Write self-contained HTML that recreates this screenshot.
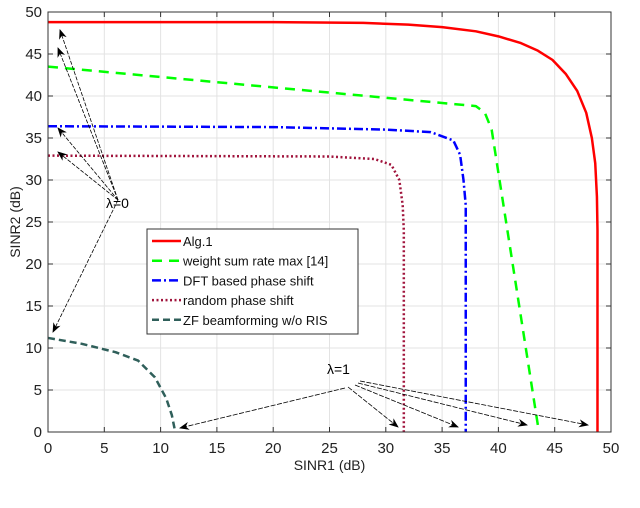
<!DOCTYPE html>
<html><head><meta charset="utf-8"><style>
body{margin:0;background:#fff}
svg{display:block;font-family:"Liberation Sans",sans-serif}
</style></head><body>
<svg id="c" width="640" height="508" viewBox="0 0 640 508">
<defs><marker id="ah" markerWidth="10" markerHeight="8" refX="9" refY="4" orient="auto" markerUnits="userSpaceOnUse"><path d="M0,0 L10,4 L0,8 L3,4 Z" fill="#000"/></marker></defs>
<g id="grid"></g>
<g id="series"></g>
<g id="axes"></g>
<g id="ann"></g>
<g id="legend"></g>
</svg>
<script>
const xTicks=[0,5,10,15,20,25,30,35,40,45,50];
const yTicks=[0,5,10,15,20,25,30,35,40,45,50];
const alg1X=[0,20,28,32,35,38,40,42,43.5,44.8,46,47,47.8,48.3,48.6,48.75,48.8,48.8];
const alg1Y=[48.8,48.8,48.7,48.5,48.2,47.7,47.1,46.3,45.4,44.3,42.6,40.6,38,35,32,28,24,0];
const wsrX=[0,38,38.8,39.4,43.6];
const wsrY=[43.5,38.8,38,36,0];
const dftX=[0,20,30,34,36,36.6,36.9,37.1,37.1];
const dftY=[36.4,36.3,36,35.7,34.7,33,30,27,0];
const rndX=[0,25,29,30.5,31.2,31.5,31.6,31.6];
const rndY=[32.9,32.8,32.5,31.8,30,27,24,0];
const zfX=[0,3,6,8,9.5,10.5,11,11.3];
const zfY=[11.2,10.5,9.5,8.5,6.5,4,2,0];
const L=48,R=611,T=12,B=432;
const sx=v=>L+(v-0)/(50-0)*(R-L), sy=v=>B-(v-0)/(50-0)*(B-T);
const NS="http://www.w3.org/2000/svg";
function mk(tag,attrs,parent,txt){const e=document.createElementNS(NS,tag);for(const k in attrs)e.setAttribute(k,attrs[k]);if(txt!==undefined)e.textContent=txt;parent.appendChild(e);return e;}
const grid=document.getElementById('grid'),axes=document.getElementById('axes'),ser=document.getElementById('series'),ann=document.getElementById('ann'),leg=document.getElementById('legend');
xTicks.forEach(t=>{const g=mk('line',{x1:sx(t),x2:sx(t),y1:T,y2:B,stroke:'#e3e3e3','stroke-width':1},grid);
 mk('line',{x1:sx(t),x2:sx(t),y1:B,y2:B-5,stroke:'#333'},axes);mk('line',{x1:sx(t),x2:sx(t),y1:T,y2:T+5,stroke:'#333'},axes);
 const lb=mk('text',{x:sx(t),y:B+21,'text-anchor':'middle','font-size':15,fill:'#222'},axes,t);});
yTicks.forEach(t=>{const g=mk('line',{x1:L,x2:R,y1:sy(t),y2:sy(t),stroke:'#e3e3e3','stroke-width':1},grid);
 mk('line',{x1:L,x2:L+5,y1:sy(t),y2:sy(t),stroke:'#333'},axes);mk('line',{x1:R,x2:R-5,y1:sy(t),y2:sy(t),stroke:'#333'},axes);
 const lb=mk('text',{x:L-6,y:sy(t)+5,'text-anchor':'end','font-size':15,fill:'#222'},axes,t);});
const fr=mk('rect',{x:L,y:T,width:R-L,height:B-T,fill:'none',stroke:'#333','stroke-width':1},axes);
const xt=mk('text',{x:(L+R)/2,y:470,'text-anchor':'middle','font-size':14,fill:'#222'},axes,'SINR1 (dB)');
const yt=mk('text',{x:0,y:0,transform:'translate(20,222) rotate(-90)','text-anchor':'middle','font-size':14,fill:'#222'},axes,'SINR2 (dB)');
const styles=[
 {x:alg1X,y:alg1Y,c:'#f00',d:'',n:'Alg.1',id:'alg1'},
 {x:wsrX,y:wsrY,c:'#0f0',d:'10 7',n:'weight sum rate max [14]',id:'wsr'},
 {x:dftX,y:dftY,c:'#00f',d:'9 3 2 3',n:'DFT based phase shift',id:'dft'},
 {x:rndX,y:rndY,c:'#a0143c',d:'2 2.5',n:'random phase shift',id:'random'},
 {x:zfX,y:zfY,c:'#2f5f5a',d:'7 4',n:'ZF beamforming w/o RIS',id:'zf'}];
styles.forEach(s=>{const p=s.x.map((v,i)=>sx(v)+','+sy(s.y[i])).join(' ');
 const e=mk('polyline',{points:p,fill:'none',stroke:s.c,'stroke-width':2.5,'stroke-dasharray':s.d,'stroke-linejoin':'round'},ser);});
const a0=[[60,30],[58,48],[58,128],[58,152],[53,332]];
a0.forEach(t=>{const e=mk('line',{x1:118,y1:200,x2:t[0],y2:t[1],stroke:'#000','stroke-width':0.8,'stroke-dasharray':'4 1.5','marker-end':'url(#ah)'},ann);});
const l0=mk('text',{x:106,y:208,'font-size':14,fill:'#000'},ann,'λ=0');
const a1=[[345,388,180,428],[348,387,398,427],[355,385,458,427],[358,383,527,425],[360,381,588,425]];
a1.forEach(t=>{const e=mk('line',{x1:t[0],y1:t[1],x2:t[2],y2:t[3],stroke:'#000','stroke-width':0.8,'stroke-dasharray':'5 1.5','marker-end':'url(#ah)'},ann);});
const l1=mk('text',{x:327,y:374,'font-size':14,fill:'#000'},ann,'λ=1');
const lb=mk('rect',{x:147,y:229,width:211,height:105,fill:'#fff',stroke:'#333','stroke-width':1},leg);
styles.forEach((s,i)=>{const y=241+i*19.7;
 const ln=mk('line',{x1:152,x2:181,y1:y,y2:y,stroke:s.c,'stroke-width':2.5,'stroke-dasharray':s.d},leg);
 const tx=mk('text',{x:183,y:y+5,'font-size':13,fill:'#111'},leg,s.n);});
</script>
</body></html>
